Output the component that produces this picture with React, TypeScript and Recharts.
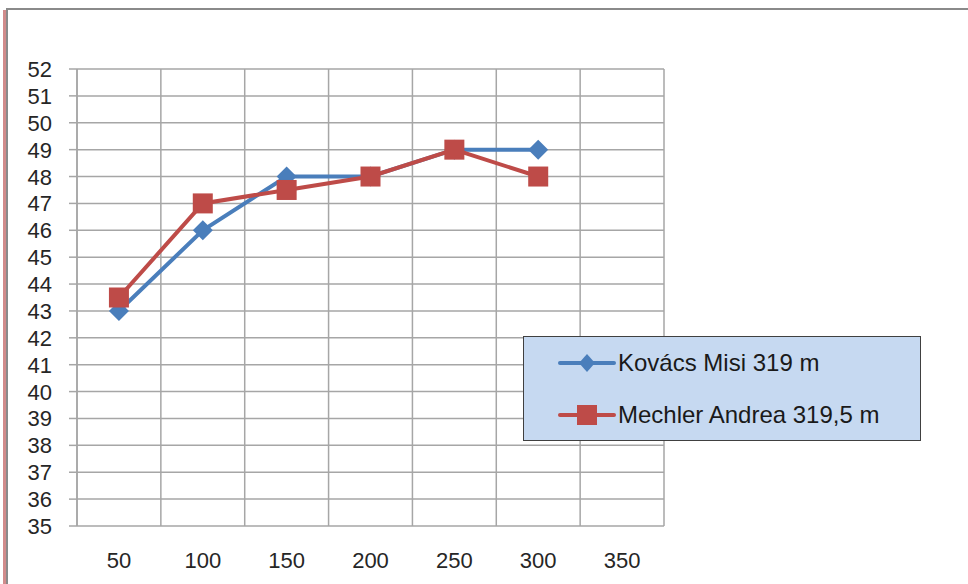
import React from "react";
import { LineChart, Line, XAxis, YAxis, CartesianGrid } from "recharts";

const distances = [50, 100, 150, 200, 250, 300];
const kovacs = [43, 46, 48, 48, 49, 49];
const mechler = [43.5, 47, 47.5, 48, 49, 48];
const xLabels = [50, 100, 150, 200, 250, 300, 350];
const xBounds = [25, 75, 125, 175, 225, 275, 325, 375];
const yTicks = [35, 36, 37, 38, 39, 40, 41, 42, 43, 44, 45, 46, 47, 48, 49, 50, 51, 52];

const seriesNames = ["Kovács Misi 319 m", "Mechler Andrea 319,5 m"];
const BLUE = "#4A7EBB";
const RED = "#BE4B48";
const GRID = "#A6A6A6";

const data = distances.map((d, i) => ({ x: d, k: kovacs[i], m: mechler[i] }));

const FONT = "'Liberation Sans', Arial, sans-serif";

const Diamond = (props: any) => {
  const { cx, cy, fill } = props;
  if (cx == null || cy == null) return null;
  const r = 10;
  return <path d={`M${cx},${cy - r}L${cx + r},${cy}L${cx},${cy + r}L${cx - r},${cy}Z`} fill={fill} />;
};

const Square = (props: any) => {
  const { cx, cy, fill } = props;
  if (cx == null || cy == null) return null;
  const s = 10;
  return <rect x={cx - s} y={cy - s} width={s * 2} height={s * 2} fill={fill} />;
};

const XMark = (props: any) => {
  const { x, y } = props;
  return <line x1={x} y1={y} x2={x} y2={y + 8} stroke={GRID} strokeWidth={1.5} />;
};

const XTick = (props: any) => {
  const { x, y, payload } = props;
  return (
    <text x={x} y={y + 42} textAnchor="middle" fill="#262626" fontSize={22} fontFamily={FONT}>
      {payload.value}
    </text>
  );
};

const YTick = (props: any) => {
  const { x, y, payload } = props;
  return (
    <g>
      <line x1={x - 8} y1={y} x2={x} y2={y} stroke={GRID} strokeWidth={1.5} />
      <text x={x - 25} y={y + 8} textAnchor="end" fill="#262626" fontSize={22} fontFamily={FONT}>
        {payload.value}
      </text>
    </g>
  );
};

export default function App() {
  return (
    <div style={{ position: "absolute", left: 0, top: 0, width: 968, height: 584, background: "#fff", overflow: "hidden" }}>
      <div style={{ position: "absolute", left: 3, top: 10, width: 3, height: 574, background: "#D18B8B" }} />
      <div style={{ position: "absolute", left: 6, top: 8, right: 0, height: 2, background: "#8A8A8A" }} />
      <div style={{ position: "absolute", left: 6, top: 8, width: 2, height: 576, background: "#8A8A8A" }} />
      <div style={{ position: "absolute", left: 0, top: 0 }}>
        <LineChart width={968} height={584} data={data} margin={{ top: 69, right: 304, bottom: 28, left: 17 }}>
          <CartesianGrid xAxisId="grid" stroke={GRID} strokeWidth={1.5} horizontal vertical />
          <XAxis
            xAxisId="grid"
            type="number"
            dataKey="x"
            domain={[25, 375]}
            ticks={xBounds}
            interval={0}
            tick={<XMark />}
            tickLine={false}
            tickSize={0}
            tickMargin={0}
            axisLine={{ stroke: GRID, strokeWidth: 1.5 }}
            height={0}
            allowDataOverflow
          />
          <XAxis
            type="number"
            dataKey="x"
            domain={[25, 375]}
            ticks={xLabels}
            tick={<XTick />}
            tickLine={false}
            tickSize={0}
            tickMargin={0}
            axisLine={false}
            height={30}
            interval={0}
          />
          <YAxis
            domain={[35, 52]}
            ticks={yTicks}
            interval={0}
            tick={<YTick />}
            tickLine={false}
            tickSize={0}
            tickMargin={0}
            axisLine={{ stroke: GRID, strokeWidth: 1.5 }}
            width={60}
          />
          <Line
            xAxisId="grid"
            dataKey="k"
            stroke={BLUE}
            strokeWidth={4}
            dot={<Diamond fill={BLUE} />}
            isAnimationActive={false}
          />
          <Line
            xAxisId="grid"
            dataKey="m"
            stroke={RED}
            strokeWidth={4}
            dot={<Square fill={RED} />}
            isAnimationActive={false}
          />
        </LineChart>
      </div>
      <div
        style={{
          position: "absolute",
          left: 523,
          top: 336,
          width: 396,
          height: 103,
          background: "#C6D9F1",
          border: "1px solid #404040",
          fontFamily: FONT,
          fontSize: 24,
          color: "#1a1a1a",
        }}
      >
        {seriesNames.map((name, i) => (
          <div key={name} style={{ position: "absolute", left: 34, top: i === 0 ? 11 : 63, height: 30, display: "flex", alignItems: "center", whiteSpace: "nowrap" }}>
            <svg width={60} height={30}>
              <line x1={2} y1={15} x2={56} y2={15} stroke={i === 0 ? BLUE : RED} strokeWidth={4} strokeLinecap="round" />
              {i === 0 ? (
                <path d="M29,6L37,15L29,24L21,15Z" fill={BLUE} />
              ) : (
                <rect x={19} y={5} width={20} height={20} fill={RED} />
              )}
            </svg>
            <span>{name}</span>
          </div>
        ))}
      </div>
    </div>
  );
}
